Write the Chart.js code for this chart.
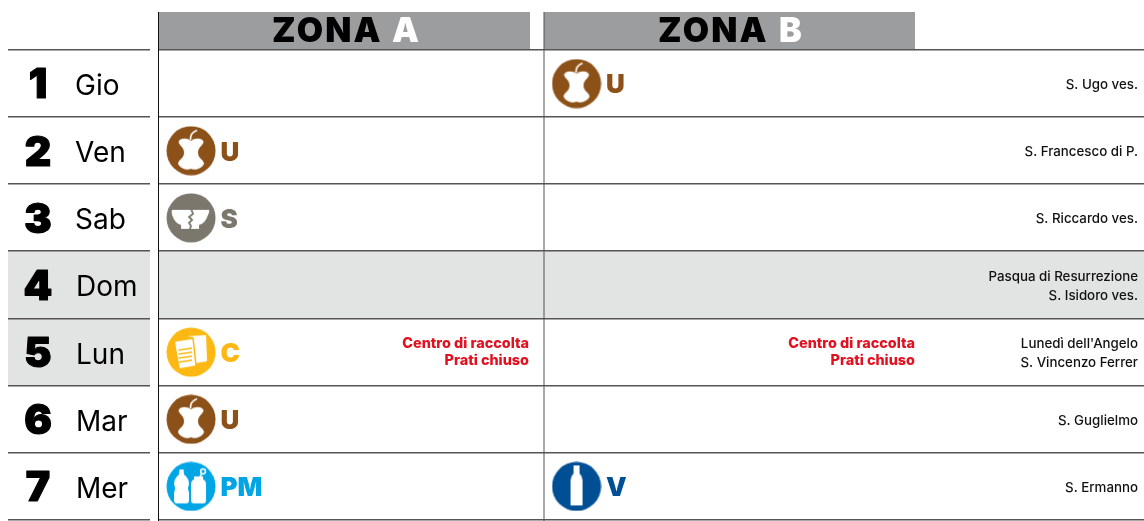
<!DOCTYPE html>
<html>
<head>
<meta charset="utf-8">
<title>Calendario raccolta</title>
<script src="https://cdn.jsdelivr.net/npm/chart.js@4"></script>
<style>
  html, body { margin: 0; padding: 0; background: #fff; }
  #wrap { width: 1144px; height: 521px; }
  canvas { display: block; }
</style>
</head>
<body>
<div id="wrap"><canvas id="calendar" width="1144" height="521"></canvas></div>
<script>
var days = [1, 2, 3, 4, 5, 6, 7];
var weekdays = ["Gio", "Ven", "Sab", "Dom", "Lun", "Mar", "Mer"];
var zoneNames = ["A", "B"];
var zoneA = [null, "U", "S", null, "C", "U", "PM"];
var zoneB = ["U", null, null, null, null, null, "V"];
var saints = [
	["S. Ugo ves."],
	["S. Francesco di P."],
	["S. Riccardo ves."],
	["Pasqua di Resurrezione", "S. Isidoro ves."],
	["Lunedì dell'Angelo", "S. Vincenzo Ferrer"],
	["S. Guglielmo"],
	["S. Ermanno"]
];
var holidayRow = 4;
var closedDay = 5;
var closedText = ["Centro di raccolta", "Prati chiuso"];

var colors = { U: "#8c5118", S: "#7b776c", C: "#fdb813", PM: "#00a5e5", V: "#004f95" };
var FONT = "Inter, 'Noto Sans', sans-serif";

function makeIcon(code) {
	var c = document.createElement("canvas");
	c.width = 50; c.height = 50;
	var g = c.getContext("2d");
	g.fillStyle = colors[code];
	g.beginPath(); g.arc(25, 25, 24.5, 0, Math.PI * 2); g.fill();
	g.fillStyle = "#fff";
	g.strokeStyle = "#fff";
	if (code == "U") {
		// apple core
		g.beginPath();
		g.moveTo(25, 15);
		g.bezierCurveTo(29, 12, 36, 12, 37.5, 16);
		g.bezierCurveTo(37, 20, 32, 21, 32, 27);
		g.bezierCurveTo(32, 33, 38, 34, 38, 38);
		g.bezierCurveTo(36, 43, 28, 45, 25, 43);
		g.bezierCurveTo(22, 45, 14, 43, 12, 38);
		g.bezierCurveTo(12, 34, 18, 33, 18, 27);
		g.bezierCurveTo(18, 21, 13, 20, 12.5, 16);
		g.bezierCurveTo(14, 12, 21, 12, 25, 15);
		g.fill();
		g.lineWidth = 1.6;
		g.beginPath(); g.moveTo(24.5, 14); g.quadraticCurveTo(24, 7, 31, 4.5); g.stroke();
	} else if (code == "S") {
		// broken bowl
		g.beginPath();
		g.moveTo(6, 17); g.lineTo(43, 17);
		g.quadraticCurveTo(44, 19, 42, 22);
		g.quadraticCurveTo(39, 31, 33, 32);
		g.lineTo(33, 36); g.lineTo(15, 36); g.lineTo(15, 32);
		g.quadraticCurveTo(9, 31, 6, 22);
		g.quadraticCurveTo(5, 19, 6, 17);
		g.fill();
		g.strokeStyle = colors[code];
		g.lineWidth = 1.8;
		g.beginPath();
		g.moveTo(25, 16); g.lineTo(27, 21); g.lineTo(23, 24); g.lineTo(26, 27);
		g.lineTo(23, 30); g.lineTo(25, 33); g.lineTo(23.5, 37);
		g.stroke();
	} else if (code == "C") {
		// paper sheets
		g.beginPath();
		g.moveTo(21, 9); g.lineTo(40, 8); g.lineTo(41, 34); g.lineTo(30, 36);
		g.lineTo(27, 10); g.closePath();
		g.fill();
		g.strokeStyle = colors[code];
		g.lineWidth = 1.5;
		g.beginPath();
		g.moveTo(8, 14); g.lineTo(27, 11); g.lineTo(30, 39); g.lineTo(13, 42); g.closePath();
		g.fill(); g.stroke();
		for (var i = 0; i < 4; i++) {
			g.beginPath();
			g.moveTo(12.5, 23 + i * 4); g.lineTo(26, 21 + i * 4); g.stroke();
		}
	} else if (code == "PM") {
		// bottle and jar
		g.beginPath();
		g.moveTo(13.5, 8); g.lineTo(17.5, 8); g.lineTo(18, 13);
		g.quadraticCurveTo(23, 17, 23, 23);
		g.quadraticCurveTo(21, 27, 23, 31);
		g.lineTo(23, 39);
		g.quadraticCurveTo(23, 42, 20, 42);
		g.lineTo(11, 42);
		g.quadraticCurveTo(8, 42, 8, 39);
		g.lineTo(8, 31);
		g.quadraticCurveTo(10, 27, 8, 23);
		g.quadraticCurveTo(8, 17, 13, 13);
		g.closePath(); g.fill();
		g.beginPath();
		g.moveTo(28, 15); g.lineTo(37, 15); g.lineTo(37, 18);
		g.quadraticCurveTo(40, 19, 40, 23);
		g.lineTo(40, 39);
		g.quadraticCurveTo(40, 42, 37, 42);
		g.lineTo(28, 42);
		g.quadraticCurveTo(25, 42, 25, 39);
		g.lineTo(25, 23);
		g.quadraticCurveTo(25, 19, 28, 18);
		g.closePath(); g.fill();
		g.lineWidth = 1.5;
		g.beginPath(); g.arc(37, 10, 2.4, 0, Math.PI * 2); g.stroke();
		g.beginPath(); g.moveTo(36, 12); g.lineTo(34, 15); g.stroke();
	} else if (code == "V") {
		// glass bottle
		g.beginPath();
		g.moveTo(22, 4); g.lineTo(28, 4); g.lineTo(28, 12);
		g.quadraticCurveTo(31, 15, 31, 19);
		g.lineTo(31, 44); g.lineTo(19, 44); g.lineTo(19, 19);
		g.quadraticCurveTo(19, 15, 22, 12);
		g.closePath(); g.fill();
	}
	return c;
}

var icons = {};
Object.keys(colors).forEach(function(code) { icons[code] = makeIcon(code); });

function zonePoints(list, col) {
	var out = [];
	list.forEach(function(code, i) {
		if (code) out.push({ x: col, y: days[i], code: code });
	});
	return out;
}

function text(g, str, x, y, font, color, align, spacing, stroke) {
	g.font = font;
	g.fillStyle = color;
	g.textAlign = align || "left";
	g.textBaseline = "middle";
	g.letterSpacing = spacing || "0px";
	if (stroke) {
		g.strokeStyle = color;
		g.lineWidth = stroke;
		g.lineJoin = "round";
		g.strokeText(str, x, y);
	}
	g.fillText(str, x, y);
	g.letterSpacing = "0px";
}

var tablePlugin = {
	id: "tablePlugin",
	beforeDatasetsDraw: function(chart) {
		var g = chart.ctx, yS = chart.scales.y;
		var rowTop = function(d) { return Math.round(yS.getPixelForValue(d - 0.5)); };
		g.save();
		// shaded rows
		g.fillStyle = "#e2e3e3";
		g.fillRect(8, rowTop(holidayRow), 1136, rowTop(holidayRow + 1) - rowTop(holidayRow));
		g.fillRect(8, rowTop(closedDay), 142, rowTop(closedDay + 1) - rowTop(closedDay));
		g.fillStyle = "#fff";
		g.fillRect(150, rowTop(holidayRow), 8, rowTop(closedDay + 1) - rowTop(holidayRow));
		// header bars
		g.fillStyle = "#9c9d9e";
		g.fillRect(158, 12, 372, 38);
		g.fillRect(544, 12, 371, 38);
		// row rules
		g.fillStyle = "#555";
		days.concat([8]).forEach(function(d) {
			var y = rowTop(d);
			g.fillRect(8, y - 1, 142, 1.5);
			g.fillRect(158, y - 1, 986, 1.5);
		});
		// column rules
		g.fillStyle = "#111";
		g.fillRect(158, 12, 1, 509);
		g.fillStyle = "#555";
		g.fillRect(543.5, 12, 1, 509);
		g.restore();
	},
	afterDatasetsDraw: function(chart) {
		var g = chart.ctx, xS = chart.scales.x, yS = chart.scales.y;
		g.save();
		// zone headers
		var hdr = "900 34px " + FONT;
		text(g, "ZONA", 272, 32, hdr, "#000", "left", "2.2px");
		text(g, zoneNames[0], 392, 32, hdr, "#fff", "left", "0px");
		text(g, "ZONA", 658, 32, hdr, "#000", "left", "2.2px");
		text(g, zoneNames[1], 779, 32, hdr, "#fff", "left", "0px");
		days.forEach(function(d, i) {
			var y = yS.getPixelForValue(d);
			text(g, String(d), 38, y + 2.5, "900 41px " + FONT, "#000", "center", "0px", 1.2);
			text(g, weekdays[i], i < 3 ? 75 : 76, y + 3, "400 28px " + FONT, "#000");
			var lines = saints[i];
			var gap = 19;
			lines.forEach(function(s, k) {
				text(g, s, 1138, y + 1.5 + (k - (lines.length - 1) / 2) * gap, "500 13.3px " + FONT, "#111", "right");
			});
		});
		// waste codes next to each icon
		chart.data.datasets.forEach(function(ds) {
			ds.data.forEach(function(p) {
				text(g, p.code, xS.getPixelForValue(p.x) + 29.5, yS.getPixelForValue(p.y) + 2, "900 26px " + FONT, colors[p.code]);
			});
		});
		// closure notice
		var yc = yS.getPixelForValue(closedDay);
		[529, 915].forEach(function(x) {
			closedText.forEach(function(s, k) {
				text(g, s, x, yc + (k - 0.5) * 17, "800 14.4px " + FONT, "#e3101f", "right");
			});
		});
		g.restore();
	}
};

var ctx = document.getElementById("calendar");

var pointIcon = function(c) { return c.raw ? icons[c.raw.code] : false; };

var chart = new Chart(ctx, {
	type: "scatter",
	data: {
		datasets: [
			{ label: "Zona A", data: zonePoints(zoneA, 1), pointStyle: pointIcon },
			{ label: "Zona B", data: zonePoints(zoneB, 2), pointStyle: pointIcon }
		]
	},
	options: {
		responsive: false,
		animation: false,
		layout: { padding: 0, autoPadding: false },
		plugins: { legend: { display: false }, tooltip: { enabled: false } },
		scales: {
			x: { type: "linear", display: false, min: 0.5045, max: 3.472 },
			y: { type: "linear", display: false, reverse: true, min: -0.245, max: 7.515 }
		}
	},
	plugins: [tablePlugin]
});
</script>
</body>
</html>
